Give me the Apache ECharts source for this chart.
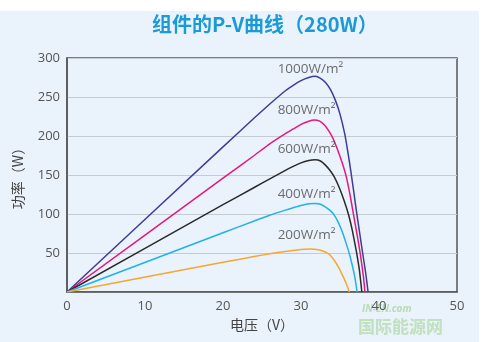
<!DOCTYPE html>
<html><head><meta charset="utf-8">
<script src="https://cdn.jsdelivr.net/npm/echarts@6/dist/echarts.min.js"></script>
<style>html,body{margin:0;padding:0;background:#fff}#c{width:490px;height:342px}</style>
</head><body><div id="c"></div>
<script>
// Data (voltage V, power W)
const irr1000 = [[0,0],[20,186],[24,223],[26,241],[28,258],[29,265],[30,271],[31,275],[31.8,276.5],[32.5,274],[33.2,268],[33.8,259],[34.4,246],[35,228],[35.6,203],[36,180],[36.4,154],[36.8,126],[37.1,104],[37.5,77],[37.9,50],[38.3,24],[38.6,0]];
const irr800  = [[0,0],[20,146],[24,175],[26,190],[28,203],[29,209],[30,215],[31,219],[31.7,220.5],[32.4,219],[33,214],[33.6,206],[34.1,197],[34.7,182],[35.3,165],[35.8,148],[36.3,124],[36.7,101],[37.2,73],[37.6,49],[38,20],[38.2,0]];
const irr600  = [[0,0],[20,112],[24,134],[26,145],[28,156],[29,161],[30,165.5],[31,168.5],[31.8,169.5],[32.5,168],[33.1,163],[33.7,156],[34.3,147],[34.9,134],[35.5,118],[36.1,99],[36.6,78],[37.1,52],[37.5,27],[37.8,0]];
const irr400  = [[0,0],[20,76],[24,91],[26,98.5],[28,105],[29,108],[30,111],[31,113],[31.8,113.5],[32.5,112.5],[33.2,108.5],[33.8,104],[34.3,98],[34.8,89],[35.3,77],[35.8,62],[36.2,49],[36.6,33],[36.9,19],[37.2,0]];
const irr200  = [[0,0],[20,38],[24,45.5],[26,49],[28,52],[29.5,54],[30.5,54.8],[31.3,55],[32,54.5],[32.7,53],[33.3,50.5],[33.8,46.5],[34.3,40],[34.8,32],[35.3,22],[35.8,11],[36.2,0]];
const seriesNames = ['1000W/m²','800W/m²','600W/m²','400W/m²','200W/m²'];
const labelPos = [[27.0,286],[27.0,233],[27.0,183],[27.0,126],[27.0,73]];
const xTicks = [0,10,20,30,40,50];
const yTicks = [0,50,100,150,200,250,300];

const colors = ['#3d3c97','#e5177f','#2a2a2a','#1fb3ea','#f7a631'];
const allData = [irr1000, irr800, irr600, irr400, irr200];

const chart = echarts.init(document.getElementById('c'));
const series = allData.map((d,i)=>({
  type:'line', name:seriesNames[i], data:d, smooth:0.15, showSymbol:false, symbol:'none',
  lineStyle:{color:colors[i], width:1.5}, z:3
}));
series.push({
  type:'scatter', symbolSize:0.1, z:4,
  data: labelPos.map((p,i)=>({value:p, name:seriesNames[i]})),
  label:{show:true, position:'right', distance:0, formatter:p=>p.name, color:'#4a4a4a', fontSize:13.5, fontFamily:'Open Sans'}
});
chart.setOption({
  animation:false,
  title:{text:'组件的P-V曲线（280W）', left:147, top:9,
    textStyle:{color:'#1b9ad8', fontSize:20, fontWeight:'bold', fontFamily:'"Noto Sans CJK SC"'}},
  graphic:[
    {type:'rect', shape:{x:0,y:11,width:479,height:331}, style:{fill:'#eaf2fb'}, z:-10, silent:true},
    {type:'text', left:362, top:304, style:{text:'IN-EN.com', fill:'rgba(140,200,120,0.55)', font:'italic bold 10px "Open Sans"'}, z:-5},
    {type:'text', left:358, top:318, style:{text:'国际能源网', fill:'rgba(150,205,130,0.5)', font:'bold 17px "Noto Sans CJK SC"'}, z:-5}
  ],
  grid:{left:67, right:33, top:58, bottom:50, show:true, borderColor:'#555', borderWidth:1.5, backgroundColor:'transparent'},
  xAxis:{type:'value', min:0, max:50, interval:10,
    name:'电压（V）', nameLocation:'middle', nameGap:24,
    nameTextStyle:{color:'#444', fontSize:14, fontFamily:'"Noto Sans CJK SC"'},
    axisLine:{show:true, lineStyle:{color:'#555', width:1.5}}, axisTick:{show:false},
    axisLabel:{color:'#555', fontSize:13, margin:8, fontFamily:'Open Sans'},
    splitLine:{show:false}},
  yAxis:{type:'value', min:0, max:300, interval:50,
    name:'功率（W）', nameLocation:'middle', nameGap:42,
    nameTextStyle:{color:'#444', fontSize:14, fontFamily:'"Noto Sans CJK SC"'},
    axisLine:{show:true, lineStyle:{color:'#555', width:1.5}}, axisTick:{show:false},
    axisLabel:{color:'#555', fontSize:13, margin:7, fontFamily:'Open Sans',
      formatter:v=> v===0 ? '' : String(v)},
    splitLine:{show:true, lineStyle:{color:'#c5cbd2', width:1.2}}},
  series: series
});
</script></body></html>
